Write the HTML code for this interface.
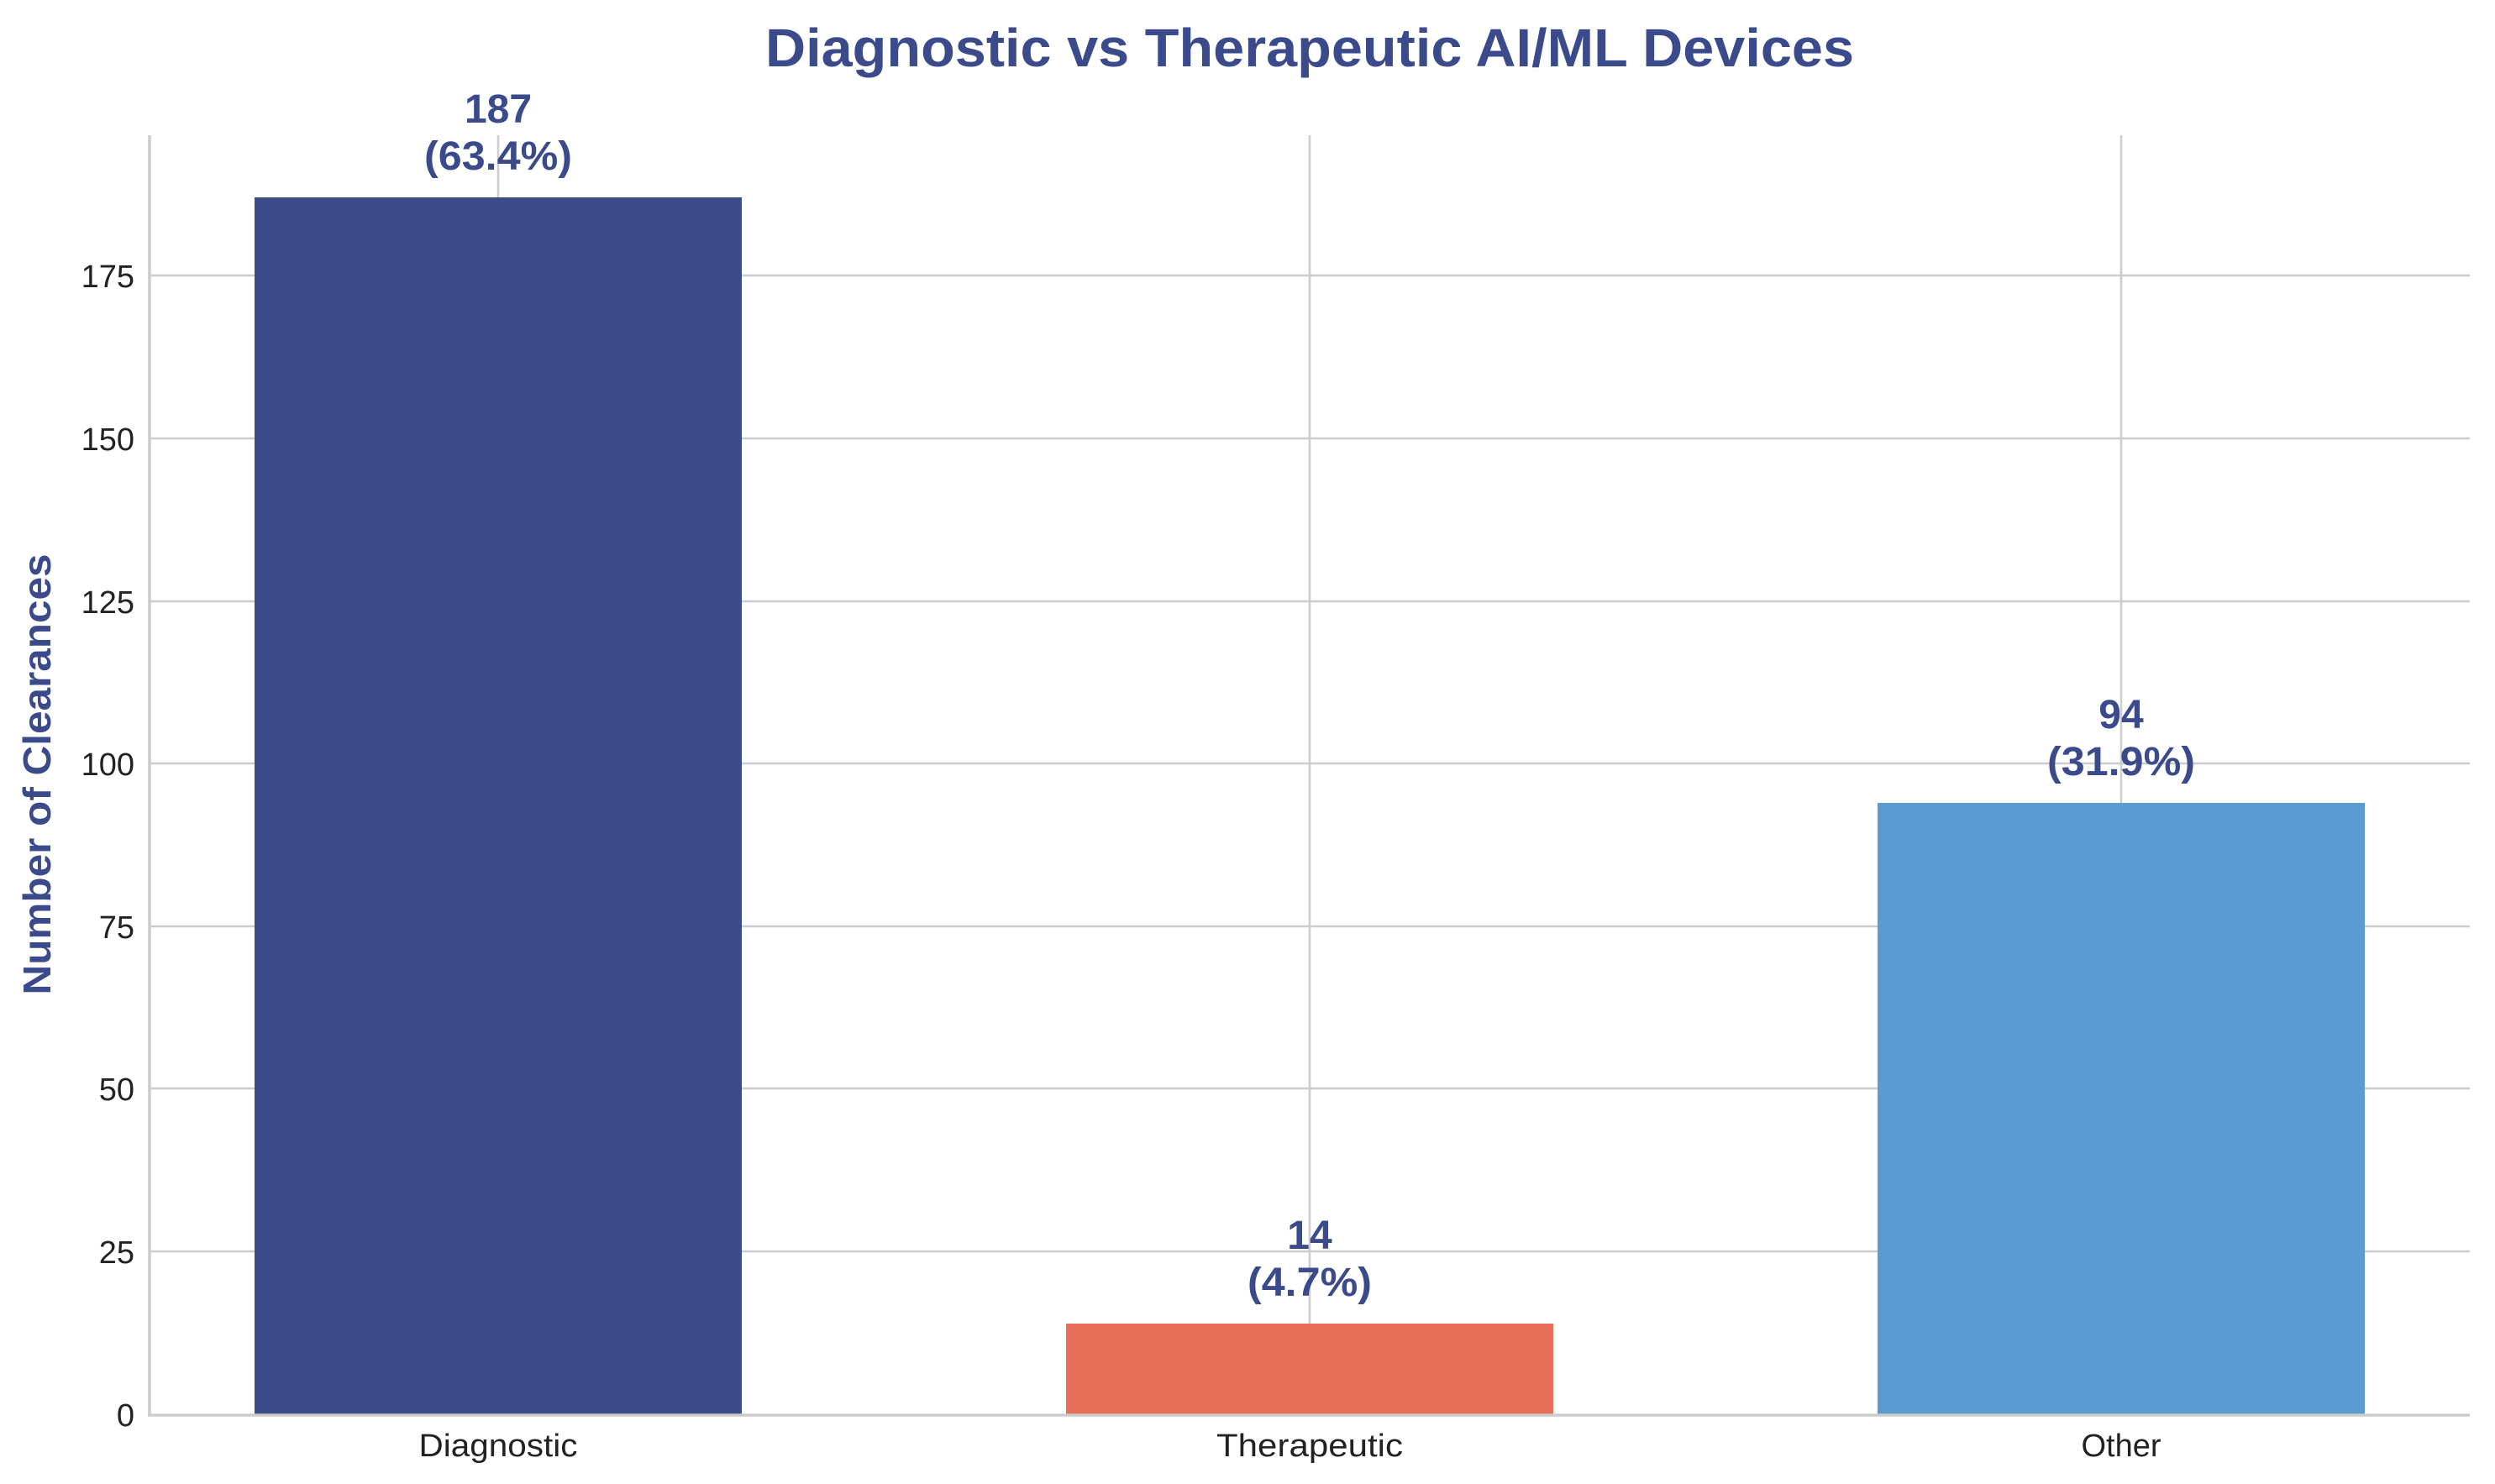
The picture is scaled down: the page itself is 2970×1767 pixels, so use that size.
<!DOCTYPE html>
<html><head><meta charset="utf-8"><style>
html,body{margin:0;padding:0;background:#fff;}
svg{display:block;font-family:"Liberation Sans",Arial,sans-serif;}
</style></head><body>
<svg width="2970" height="1767" viewBox="0 0 2970 1767" xmlns="http://www.w3.org/2000/svg">
<rect width="2970" height="1767" fill="#fff"/>
<g stroke="#cccccc" stroke-width="2.5">
<line x1="178" x2="2940" y1="1490" y2="1490"/>
<line x1="178" x2="2940" y1="1296" y2="1296"/>
<line x1="178" x2="2940" y1="1103" y2="1103"/>
<line x1="178" x2="2940" y1="909" y2="909"/>
<line x1="178" x2="2940" y1="716" y2="716"/>
<line x1="178" x2="2940" y1="522" y2="522"/>
<line x1="178" x2="2940" y1="328" y2="328"/>
<line x1="593" x2="593" y1="161" y2="1684"/>
<line x1="1559" x2="1559" y1="161" y2="1684"/>
<line x1="2525" x2="2525" y1="161" y2="1684"/>
</g>
<rect x="303" y="235" width="580" height="1449" fill="#3c4c8a"/>
<rect x="1269" y="1576" width="580" height="108" fill="#e76f5a"/>
<rect x="2235" y="956" width="580" height="728" fill="#5b9bd4"/>
<g stroke="#cccccc" stroke-width="3.5">
<line x1="178" x2="178" y1="161" y2="1685"/>
<line x1="176" x2="2940" y1="1685" y2="1685"/>
</g>
<g font-size="38" fill="#222" text-anchor="end">
<text x="160" y="1698">0</text>
<text x="160" y="1504">25</text>
<text x="160" y="1310">50</text>
<text x="160" y="1117">75</text>
<text x="160" y="923">100</text>
<text x="160" y="730">125</text>
<text x="160" y="536">150</text>
<text x="160" y="342">175</text>
</g>
<g font-size="38" fill="#222" text-anchor="middle">
<text x="593" y="1734" textLength="189" lengthAdjust="spacingAndGlyphs">Diagnostic</text>
<text x="1559" y="1734" textLength="222" lengthAdjust="spacingAndGlyphs">Therapeutic</text>
<text x="2525" y="1734">Other</text>
</g>
<text x="1559" y="79" font-size="64" font-weight="bold" fill="#3a4a8a" text-anchor="middle" textLength="1296" lengthAdjust="spacingAndGlyphs">Diagnostic vs Therapeutic AI/ML Devices</text>
<text transform="translate(60,922) rotate(-90)" font-size="46" font-weight="bold" fill="#3a4a8a" text-anchor="middle" textLength="525" lengthAdjust="spacingAndGlyphs">Number of Clearances</text>
<g font-size="48" font-weight="bold" fill="#3a4a8a" text-anchor="middle">
<text x="593" y="146">187</text>
<text x="593" y="202" textLength="176" lengthAdjust="spacingAndGlyphs">(63.4%)</text>
<text x="1559" y="1487">14</text>
<text x="1559" y="1543" textLength="148" lengthAdjust="spacingAndGlyphs">(4.7%)</text>
<text x="2525" y="867">94</text>
<text x="2525" y="923" textLength="176" lengthAdjust="spacingAndGlyphs">(31.9%)</text>
</g>
</svg>
</body></html>
